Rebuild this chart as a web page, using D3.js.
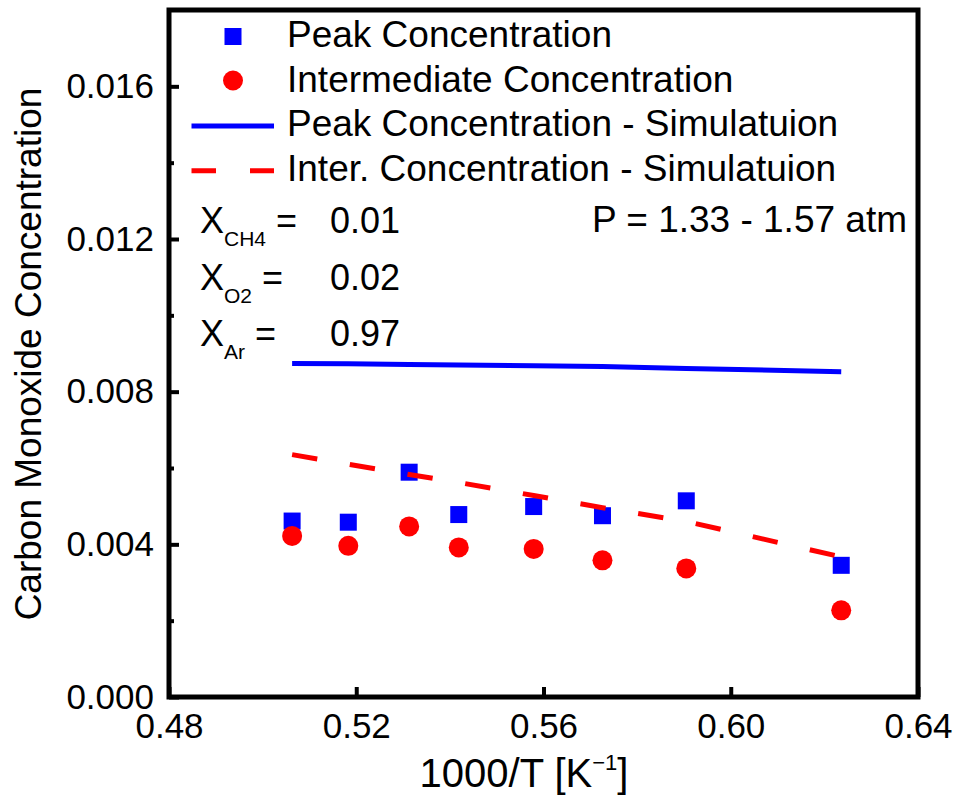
<!DOCTYPE html>
<html>
<head>
<meta charset="utf-8">
<script src="https://cdn.jsdelivr.net/npm/d3@7"></script>
<style>
  body { margin: 0; background: #fff; }
  text { font-family: "Liberation Sans", Arial, Helvetica, sans-serif; fill: #000; }
</style>
</head>
<body>
<div id="container"></div>
<script>
// 1000/T values of the experiments
var xVals = [0.5063, 0.5183, 0.5313, 0.5419, 0.5579, 0.5726, 0.5905, 0.6236];
// measured CO concentrations
var peak = [0.00461, 0.00458, 0.00589, 0.00478, 0.00499, 0.00475, 0.00514, 0.00345];
var inter = [0.00422, 0.00396, 0.00447, 0.00392, 0.00388, 0.00358, 0.00337, 0.00227];
// simulation results
var peakSim = [0.00874, 0.00873, 0.00871, 0.00870, 0.00868, 0.00866, 0.00861, 0.00852];
var interSim = [0.00635, 0.00610, 0.00583, 0.00562, 0.00528, 0.00496, 0.00460, 0.00367];

var xTicks = [0.48, 0.52, 0.56, 0.60, 0.64];
var yTicks = [0.000, 0.004, 0.008, 0.012, 0.016];
var yMinor = [0.002, 0.006, 0.010, 0.014];

var legendLabels = ["Peak Concentration", "Intermediate Concentration",
  "Peak Concentration - Simulatuion", "Inter. Concentration - Simulatuion"];

var svg_width = 956, svg_height = 798;
var pLeft = 169, pRight = 918, pTop = 10, pBottom = 697;

var x = d3.scaleLinear().domain([0.48, 0.64]).range([pLeft, pRight]);
var y = d3.scaleLinear().domain([0, 0.018]).range([pBottom, pTop]);

var svg = d3.select("#container").append("svg")
  .attr("width", svg_width)
  .attr("height", svg_height);

// axes (ticks point inward)
var gx = svg.append("g")
  .attr("transform", "translate(0," + pBottom + ")")
  .call(d3.axisBottom(x).tickValues(xTicks).tickSize(-10).tickPadding(16)
    .tickFormat(d3.format(".2f")));
var gy = svg.append("g")
  .attr("transform", "translate(" + pLeft + ",0)")
  .call(d3.axisLeft(y).tickValues(yTicks).tickSize(-10).tickPadding(15)
    .tickFormat(d3.format(".3f")));
var gym = svg.append("g")
  .attr("transform", "translate(" + pLeft + ",0)")
  .call(d3.axisLeft(y).tickValues(yMinor).tickSize(-5).tickFormat(""));

[gx, gy, gym].forEach(function(g) {
  g.select(".domain").remove();
  g.selectAll(".tick line").attr("stroke", "#000").attr("stroke-width", 4);
  g.selectAll(".tick text").style("font-size", "35px").attr("fill", "#000");
});

// frame
svg.append("rect")
  .attr("x", pLeft).attr("y", pTop)
  .attr("width", pRight - pLeft).attr("height", pBottom - pTop)
  .attr("fill", "none").attr("stroke", "#000").attr("stroke-width", 5);

// data markers
var sq = 17;
svg.selectAll(".peak").data(xVals).enter().append("rect")
  .attr("class", "peak")
  .attr("x", function(d) { return x(d) - sq / 2; })
  .attr("y", function(d, i) { return y(peak[i]) - sq / 2; })
  .attr("width", sq).attr("height", sq)
  .attr("fill", "#0000ff");

svg.selectAll(".inter").data(xVals).enter().append("circle")
  .attr("class", "inter")
  .attr("cx", function(d) { return x(d); })
  .attr("cy", function(d, i) { return y(inter[i]); })
  .attr("r", 10)
  .attr("fill", "#ff0000");

// simulation lines
var line = d3.line()
  .x(function(d) { return x(d[0]); })
  .y(function(d) { return y(d[1]); });

svg.append("path")
  .attr("d", line(d3.zip(xVals, interSim)))
  .attr("fill", "none").attr("stroke", "#ff0000").attr("stroke-width", 5)
  .attr("stroke-dasharray", "25.5,33");

svg.append("path")
  .attr("d", line(d3.zip(xVals, peakSim)))
  .attr("fill", "none").attr("stroke", "#0000ff").attr("stroke-width", 5);

// legend
var lg = svg.append("g");
var rowY = [47, 91.5, 136, 180.5];
lg.selectAll("text").data(legendLabels).enter().append("text")
  .attr("x", 287)
  .attr("y", function(d, i) { return rowY[i]; })
  .style("font-size", "37px")
  .text(function(d) { return d; });
lg.append("rect").attr("x", 233 - sq / 2).attr("y", 36.5 - sq / 2)
  .attr("width", sq).attr("height", sq).attr("fill", "#0000ff");
lg.append("circle").attr("cx", 233).attr("cy", 80.5).attr("r", 10).attr("fill", "#ff0000");
lg.append("line").attr("x1", 191.5).attr("x2", 274).attr("y1", 126).attr("y2", 126)
  .attr("stroke", "#0000ff").attr("stroke-width", 5);
lg.append("line").attr("x1", 191.5).attr("x2", 274).attr("y1", 170.7).attr("y2", 170.7)
  .attr("stroke", "#ff0000").attr("stroke-width", 5).attr("stroke-dasharray", "24.5,34");

// mixture annotation
var species = [["CH4", "0.01"], ["O2", "0.02"], ["Ar", "0.97"]];
species.forEach(function(s, i) {
  var by = 233 + i * 56.7;
  var t = svg.append("text").attr("x", 200).attr("y", by).style("font-size", "36px");
  t.append("tspan").text("X");
  t.append("tspan").attr("dy", 13).style("font-size", "21px").text(s[0]);
  t.append("tspan").attr("dy", -13).text(" =");
  svg.append("text").attr("x", 330).attr("y", by).style("font-size", "36px").text(s[1]);
});

svg.append("text")
  .attr("x", 907).attr("y", 232)
  .attr("text-anchor", "end")
  .style("font-size", "37px")
  .text("P = 1.33 - 1.57 atm");

// axis titles
var xt = svg.append("text")
  .attr("x", 524).attr("y", 787)
  .attr("text-anchor", "middle")
  .style("font-size", "40px");
xt.append("tspan").text("1000/T [K");
xt.append("tspan").attr("dy", -17).style("font-size", "22px").text("\u22121");
xt.append("tspan").attr("dy", 17).text("]");

svg.append("text")
  .attr("transform", "translate(41,354) rotate(-90)")
  .attr("text-anchor", "middle")
  .style("font-size", "37px")
  .text("Carbon Monoxide Concentration");
</script>
</body>
</html>
